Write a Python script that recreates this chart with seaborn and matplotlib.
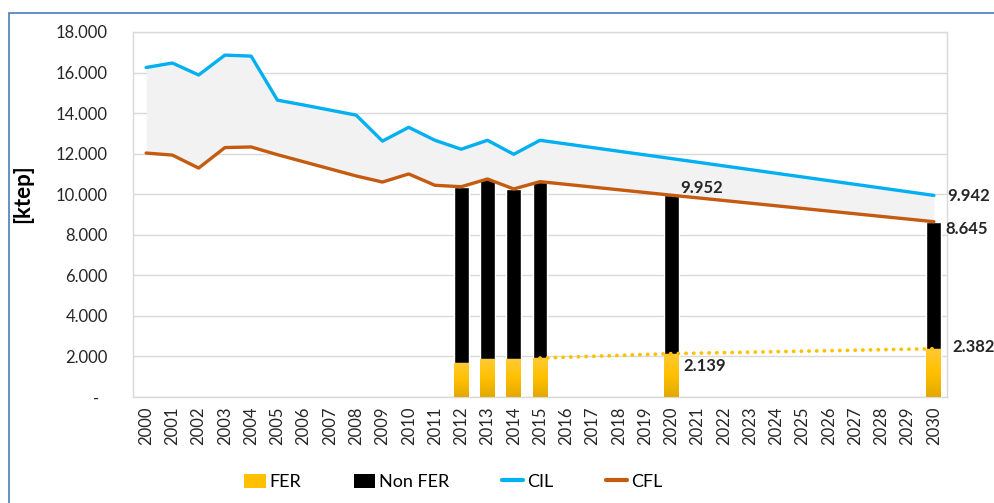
import numpy as np
import pandas as pd
import matplotlib
matplotlib.use("Agg")
import matplotlib.pyplot as plt
import seaborn as sns
from matplotlib.patches import Patch, Rectangle
from matplotlib.lines import Line2D
from matplotlib.colors import LinearSegmentedColormap


# DATA (ktep)

years = list(range(2000, 2031))

cil_years = [2000, 2001, 2002, 2003, 2004, 2005, 2006, 2007, 2008, 2009,
             2010, 2011, 2012, 2013, 2014, 2015, 2020, 2030]
cil_values = [16250, 16470, 15880, 16860, 16810, 14640, 14400, 14150, 13900, 12620,
              13300, 12660, 12220, 12660, 11970, 12660, 11760, 9942]

cfl_years = cil_years
cfl_values = [12030, 11930, 11290, 12300, 12330, 11950, 11600, 11250, 10900, 10600,
              11000, 10440, 10370, 10750, 10260, 10620, 9952, 8645]

bar_years = [2012, 2013, 2014, 2015, 2020, 2030]
fer_values = [1680, 1870, 1870, 1920, 2139, 2382]
total_values = [10370, 10750, 10260, 10620, 9952, 8645]

trend_years = [2015, 2020, 2030]
trend_values = [1920, 2139, 2382]

legend_labels = ["FER", "Non FER", "CIL", "CFL"]

# styles
C_CIL = "#00b0f0"
C_CFL = "#c55a11"
C_FER = "#ffc000"
C_FILL = "#f2f2f2"
C_GRID = "#d9d9d9"
C_TEXT = "#262626"

sns.set_theme(style="white")
plt.rcParams["font.family"] = ["Lato", "DejaVu Sans"]

fig = plt.figure(figsize=(9.94, 5.03), dpi=100)
ax = fig.add_axes([0.1338, 0.2107, 0.8189, 0.7257])

# outer chart frame (cropped at the right/bottom edges)
fig.patches.append(Rectangle((8.5 / 994, -0.1), 1.2, 1 - 13.5 / 503 + 0.1,
                             transform=fig.transFigure, fill=False,
                             edgecolor="#4a7ebb", linewidth=1.2, zorder=0))

year_labels = [str(y) for y in years]
pos = {y: i for i, y in enumerate(years)}

bars = pd.DataFrame({"year": [str(y) for y in bar_years],
                     "fer": fer_values, "total": total_values})

# stacked bars: black total, then FER on top of it
sns.barplot(data=bars, x="year", y="total", order=year_labels, color="black",
            saturation=1, width=0.57, errorbar=None, ax=ax, zorder=2)
sns.barplot(data=bars, x="year", y="fer", order=year_labels, color=C_FER,
            saturation=1, width=0.57, errorbar=None, ax=ax, zorder=3)

# yellow gradient on FER bars
grad = LinearSegmentedColormap.from_list("fer", ["#e3a900", "#ffc000", "#ffca33"])
for p in ax.containers[-1].patches:
    x0, y0 = p.get_x(), p.get_y()
    w, h = p.get_width(), p.get_height()
    if not np.isfinite(h) or h == 0:
        continue
    im = ax.imshow(np.linspace(0, 1, 64).reshape(-1, 1), cmap=grad, aspect="auto",
                   origin="lower", extent=[x0, x0 + w, y0, y0 + h], zorder=3.5)
    im.set_clip_path(p)

# grey band between CIL and CFL
cil_x = [pos[y] for y in cil_years]
ax.fill_between(cil_x, cfl_values, cil_values, color=C_FILL, linewidth=0, zorder=1)

lines = pd.DataFrame({"x": cil_x, "CIL": cil_values, "CFL": cfl_values})
sns.lineplot(data=lines, x="x", y="CIL", color=C_CIL, linewidth=2.4, ax=ax, zorder=5)
sns.lineplot(data=lines, x="x", y="CFL", color=C_CFL, linewidth=2.4, ax=ax, zorder=5)

# dotted FER trend
trend = pd.DataFrame({"x": [pos[y] for y in trend_years], "v": trend_values})
sns.lineplot(data=trend, x="x", y="v", color=C_FER, linewidth=2.7, ax=ax, zorder=6,
             linestyle=(0, (0.05, 2.0)), dash_capstyle="round")

# data labels
def label(year, val, dx, dy):
    ax.annotate(f"{val:,}".replace(",", "."), xy=(pos[year], val),
                xytext=(dx, dy), textcoords="offset pixels", ha="left", va="center",
                fontsize=12, fontweight="bold", color=C_TEXT, annotation_clip=False,
                zorder=7)

label(2020, 9952, 9, 7)
label(2020, 2139, 12, -12)
label(2030, 9942, 13, -1)
label(2030, 8645, 12, -7)
label(2030, 2382, 19, 2)

# axes formatting
ax.set_xlim(-0.5, len(years) - 0.5)
ax.set_ylim(0, 18000)
ax.set_yticks(np.arange(0, 18001, 2000))
ax.set_yticklabels(["-  "] + [f"{v:,}".replace(",", ".") for v in range(2000, 18001, 2000)])
ax.set_xticks(range(len(years)))
ax.set_xticklabels(year_labels, rotation=90)
ax.tick_params(axis="y", length=0, pad=18, labelsize=12, labelcolor=C_TEXT)
ax.tick_params(axis="x", length=0, pad=7, labelsize=12, labelcolor=C_TEXT)
ax.grid(axis="y", color=C_GRID, linewidth=1)
ax.set_axisbelow(True)
for s in ax.spines.values():
    s.set_color(C_GRID)
    s.set_linewidth(1)
ax.set_xlabel("")
ax.set_ylabel("")
fig.text(23 / 994, 1 - 194 / 503, "[ktep]", rotation=90, ha="center", va="center",
         fontsize=16, fontweight="bold", color="black")

handles = [Patch(facecolor=C_FER, edgecolor="none"),
           Patch(facecolor="black", edgecolor="none"),
           Line2D([0], [0], color=C_CIL, linewidth=3),
           Line2D([0], [0], color=C_CFL, linewidth=3)]
fig.legend(handles, legend_labels, loc="center", bbox_to_anchor=(0.456, 0.042),
           ncol=4, frameon=False, fontsize=13, handlelength=1.2, handleheight=0.8,
           handletextpad=0.2, columnspacing=2.9, labelcolor="black")

fig.savefig("out.png", dpi=100)
